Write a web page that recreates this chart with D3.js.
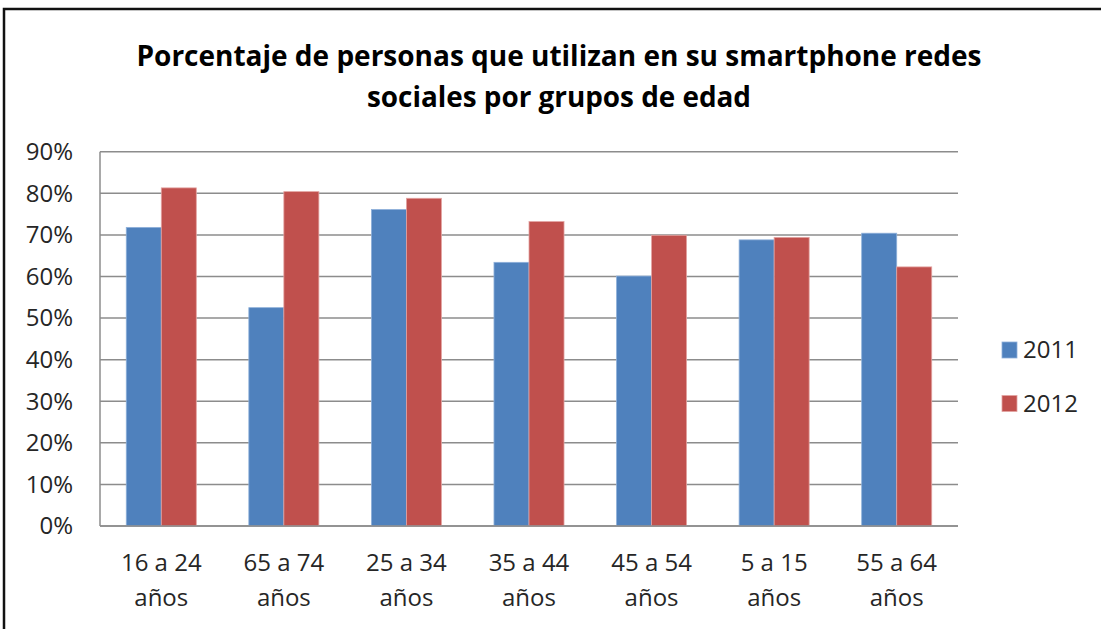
<!DOCTYPE html>
<html><head><meta charset="utf-8">
<script src="https://cdn.jsdelivr.net/npm/d3@7"></script>
<style>html,body{margin:0;padding:0;background:#fff;}svg{display:block;}</style>
</head><body>
<script>
const categories = ["16 a 24 años","65 a 74 años","25 a 34 años","35 a 44 años","45 a 54 años","5 a 15 años","55 a 64 años"];
const series = ["2011","2012"];
const values2011 = [71.8, 52.5, 76.1, 63.4, 60.1, 68.8, 70.4];
const values2012 = [81.3, 80.4, 78.8, 73.2, 69.9, 69.4, 62.3];
const yTicks = [0,10,20,30,40,50,60,70,80,90];
const titleLines = ["Porcentaje de personas que utilizan en su smartphone redes","sociales por grupos de edad"];
const colors = ["#4F81BD","#C0504D"];
const strokes = ["#8eb0da","#e3a4a2"];

(function(){
const W = 1101, H = 629;
const svg = d3.select("body").append("svg").attr("width", W).attr("height", H);
svg.append("rect").attr("width", W).attr("height", H).attr("fill", "#fff");
// outer frame
svg.append("rect").attr("x", 4).attr("y", 9).attr("width", 1300).attr("height", 800)
  .attr("fill", "none").attr("stroke", "#111").attr("stroke-width", 2.5);

const font = "'Open Sans', 'Noto Sans', sans-serif";
// title
const titleY = [66, 107];
const titleW = [845, 384];
titleLines.forEach((t, i) => {
  svg.append("text").attr("x", 559).attr("y", titleY[i]).attr("text-anchor", "middle")
    .attr("font-family", font).attr("font-weight", "bold").attr("font-size", 28)
    .attr("fill", "#000").attr("textLength", titleW[i]).attr("lengthAdjust", "spacingAndGlyphs")
    .text(t);
});

const pLeft = 100, pRight = 958, pTop = 151.7, pBottom = 526;
const x0 = d3.scaleBand().domain(categories).range([pLeft, pRight]).paddingInner(150/350).paddingOuter(75/350);
const x1 = d3.scaleBand().domain(series).range([0, x0.bandwidth()]);
const y = d3.scaleLinear().domain([0, 90]).range([pBottom, pTop]);

// gridlines
svg.append("g").selectAll("line").data(yTicks).join("line")
  .attr("x1", pLeft).attr("x2", pRight).attr("y1", d => y(d)).attr("y2", d => y(d))
  .attr("stroke", "#8c8c8c").attr("stroke-width", 1.5);

// y axis line
svg.append("line").attr("x1", pLeft).attr("x2", pLeft).attr("y1", pTop).attr("y2", pBottom)
  .attr("stroke", "#8c8c8c").attr("stroke-width", 1.5);

// bars
const data = categories.map((c, i) => ({c, vals: [values2011[i], values2012[i]]}));
const g = svg.append("g").selectAll("g").data(data).join("g")
  .attr("transform", d => `translate(${x0(d.c)},0)`);
g.selectAll("rect").data(d => d.vals.map((v, j) => ({s: series[j], v, j}))).join("rect")
  .attr("x", d => x1(d.s)).attr("width", x1.bandwidth())
  .attr("y", d => y(d.v)).attr("height", d => pBottom - y(d.v))
  .attr("fill", d => colors[d.j]).attr("stroke", d => strokes[d.j]).attr("stroke-width", 0.8);

// bottom axis line
svg.append("line").attr("x1", pLeft).attr("x2", pRight).attr("y1", pBottom).attr("y2", pBottom)
  .attr("stroke", "#8c8c8c").attr("stroke-width", 1.5);

// y labels
svg.append("g").selectAll("text").data(yTicks).join("text")
  .attr("x", 73).attr("y", d => y(d)).attr("dy", "0.35em").attr("text-anchor", "end")
  .attr("font-family", font).attr("font-size", 24).attr("fill", "#262626")
  .text(d => d + "%");

// x labels (two lines)
const xl = svg.append("g").selectAll("text").data(categories).join("text")
  .attr("x", d => x0(d) + x0.bandwidth()/2).attr("text-anchor", "middle")
  .attr("font-family", font).attr("font-size", 24).attr("fill", "#262626");
xl.each(function(d) {
  const parts = d.split(" ");
  const l1 = parts.slice(0, parts.length - 1).join(" ");
  const l2 = parts[parts.length - 1];
  const t = d3.select(this);
  t.append("tspan").attr("x", x0(d) + x0.bandwidth()/2).attr("y", 571).text(l1);
  t.append("tspan").attr("x", x0(d) + x0.bandwidth()/2).attr("y", 606).text(l2);
});

// legend
const lg = svg.append("g").selectAll("g").data(series).join("g")
  .attr("transform", (d, i) => `translate(1002, ${342 + i*53.5})`);
lg.append("rect").attr("width", 15).attr("height", 16)
  .attr("fill", (d, i) => colors[i]).attr("stroke", (d, i) => strokes[i]).attr("stroke-width", 0.8);
lg.append("text").attr("x", 21).attr("y", 8).attr("dy", "0.35em")
  .attr("font-family", font).attr("font-size", 24).attr("fill", "#262626").text(d => d);
})();
</script>
</body></html>
